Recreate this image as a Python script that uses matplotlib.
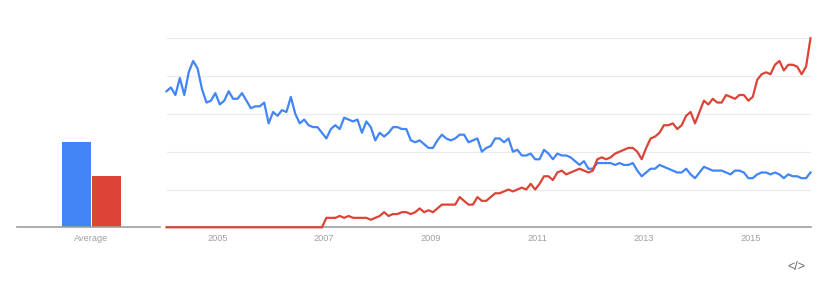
import numpy as np
import matplotlib
matplotlib.use("Agg")
import matplotlib.pyplot as plt

plt.rcParams['font.family'] = ['Liberation Sans', 'DejaVu Sans']

# Monthly interest, Jan 2004 .. Feb 2016
start_year = 2004
blue_values = [
    72, 74, 70, 79, 70, 82, 88, 84, 73, 66, 67, 71, 65, 67, 72, 68, 68, 71, 67, 63, 64,
    64, 66, 55, 61, 59, 62, 61, 69, 60, 55, 57, 54, 53, 53, 50, 47, 52, 54, 52, 58, 57,
    56, 57, 50, 56, 53, 46, 50, 48, 50, 53, 53, 52, 52, 46, 45, 46, 44, 42, 42, 46, 49,
    47, 46, 47, 49, 49, 45, 46, 47, 40, 42, 43, 47, 47, 45, 47, 40, 41, 38, 38, 39, 36,
    36, 41, 39, 36, 39, 38, 38, 37, 35, 33, 35, 31, 31, 34, 34, 34, 34, 33, 34, 33,
    33, 34, 30, 27, 29, 31, 31, 33, 32, 31, 30, 29, 29, 31, 28, 26, 29, 32, 31, 30,
    30, 30, 29, 28, 30, 30, 29, 26, 26, 28, 29, 29, 28, 29, 28, 26, 28, 27, 27, 26, 26, 29,
]
red_values = [0] * 36 + [
    5, 5, 5, 6, 5, 6,
    5, 5, 5, 5, 4, 5, 6, 8, 6, 7, 7, 8, 8, 7, 8, 10, 8, 9, 8, 10, 12,
    12, 12, 12, 16, 14, 12, 12, 16, 14, 14, 16, 18, 18, 19, 20, 19, 20, 21, 20, 23, 20,
    23, 27, 27, 25, 29, 30, 28, 29, 30, 31, 30, 29, 30, 36, 37, 36, 37, 39, 40, 41,
    42, 42, 40, 36, 42, 47, 48, 50, 54, 54, 55, 52, 54, 59, 61, 55, 61, 67, 65, 68,
    66, 66, 70, 69, 68, 70, 70, 67, 69, 78, 81, 82, 81, 86, 88, 83, 86, 86, 85, 81, 85, 100,
]
year_labels = ["2005", "2007", "2009", "2011", "2013", "2015"]
avg_label = "Average"

BLUE = "#4285f4"
RED = "#db4437"
GRID = "#ebebeb"
AXIS = "#9e9e9e"
TXT = "#a0a0a0"

W, H = 836, 290
fig = plt.figure(figsize=(W / 100, H / 100), dpi=100)

y_top, y_base = 38.3, 227.3
bottom = (H - y_base) / H
height = (y_base - y_top) / H

# main time-series axes
ax = fig.add_axes([166.5 / W, bottom, (810.5 - 166.5) / W, height])
x = np.arange(len(blue_values))
for v in [20, 40, 60, 80, 100]:
    ax.axhline(v, color=GRID, lw=0.8, zorder=0)
ax.plot(x, blue_values, color=BLUE, lw=1.6, solid_joinstyle='round', zorder=3, clip_on=False)
ax.plot(x, red_values, color=RED, lw=1.6, solid_joinstyle='round', zorder=4, clip_on=False)
ax.set_xlim(0, len(blue_values) - 1)
ax.set_ylim(0, 100)
for s in ax.spines.values():
    s.set_visible(False)
ax.axhline(0, color=AXIS, lw=1.2, zorder=2, clip_on=False)
ax.set_yticks([])
ticks = [(int(l) - start_year) * 12 - 0.5 for l in year_labels]
ax.set_xticks(ticks)
ax.set_xticklabels(year_labels, color=TXT, fontsize=6.6)
ax.tick_params(axis='x', length=0, pad=5)

# average bars axes
ax2 = fig.add_axes([17 / W, bottom, (160 - 17) / W, height])
avgs = [np.mean(blue_values), np.mean(red_values)]
ax2.bar([0, 1], avgs, width=0.97, color=[BLUE, RED], zorder=3)
ax2.set_xlim(-1.98, 2.78)
ax2.set_ylim(0, 100)
for s in ax2.spines.values():
    s.set_visible(False)
ax2.axhline(0, color=AXIS, lw=1.2, zorder=4, clip_on=False)
ax2.set_yticks([])
ax2.set_xticks([0.5])
ax2.set_xticklabels([avg_label], color=TXT, fontsize=6.6)
ax2.tick_params(axis='x', length=0, pad=5)

fig.text(796 / W, 1 - 267 / H, "</>", color="#666666", fontsize=9,
         ha='center', va='center')

fig.savefig("out.png", dpi=100)
